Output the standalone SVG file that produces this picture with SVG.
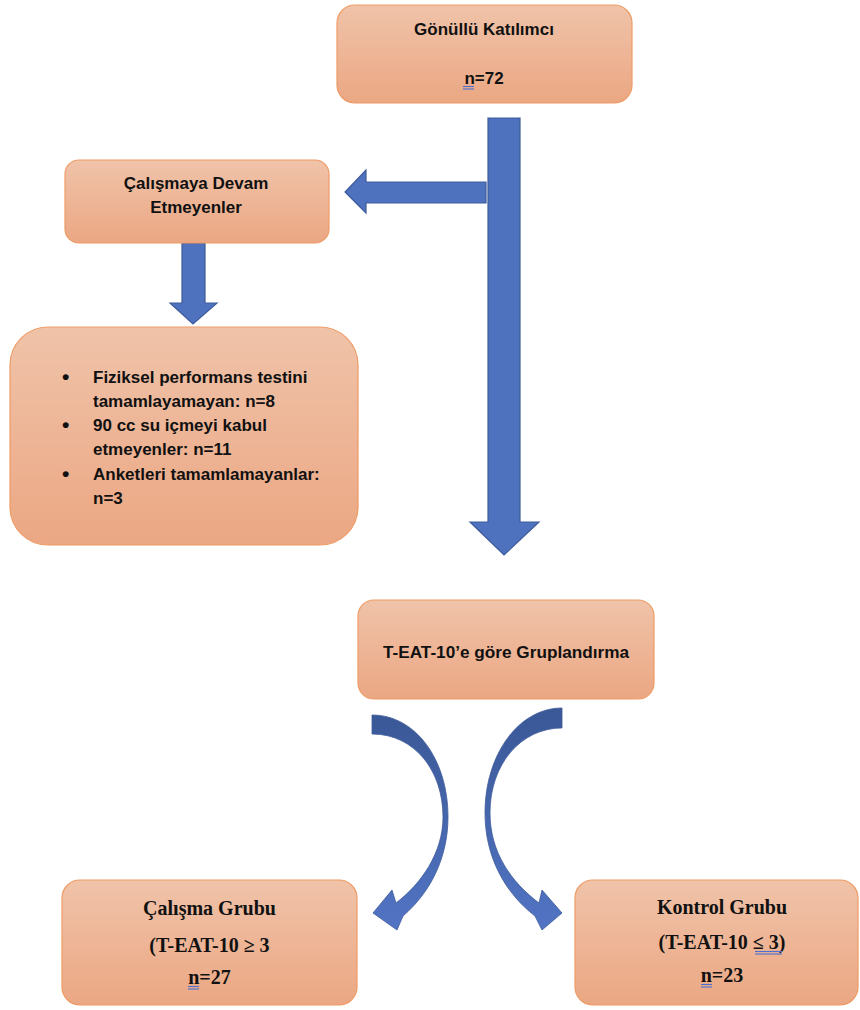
<svg xmlns="http://www.w3.org/2000/svg" width="860" height="1010" viewBox="0 0 860 1010">
<defs>
<linearGradient id="boxg" x1="0" y1="0" x2="0" y2="1">
<stop offset="0" stop-color="#F0C3A9"/>
<stop offset="1" stop-color="#EBA783"/>
</linearGradient>
<linearGradient id="curveg" x1="0" y1="0" x2="0" y2="1">
<stop offset="0" stop-color="#3A5896"/>
<stop offset="1" stop-color="#5274C4"/>
</linearGradient>
<style>
.box{fill:url(#boxg);stroke:#EE9C66;stroke-width:1.2}
.arr{fill:#4F72BE;stroke:#3E5B9B;stroke-width:1.2}
.carr{fill:url(#curveg);stroke:#3E5B9B;stroke-width:0.8}
.sans{font-family:"Liberation Sans",Arial,sans-serif;font-weight:bold;fill:#111}
.serif{font-family:"Liberation Serif","Times New Roman",serif;font-weight:bold;fill:#111;font-size:20px}
.ul{stroke:#4A6FD0;stroke-width:1.1}
</style>
</defs>

<g id="connectors">
<path class="arr" d="M488,118 L520,118 L520,522 L539,522 L504,555 L470,522 L488,522 Z"/>
<path class="arr" d="M486,182 L366,182 L366,170 L345,192 L366,213 L366,203 L486,203 Z"/>
<path class="arr" d="M182,243 L205,243 L205,303 L217,303 L193,324 L170,303 L182,303 Z"/>
<path class="carr" d="M372,715 C416,715 448,760 448,817 C448,858 430,893 403,916 L397,930 L373,913 L392,890 L396,903 C421,884 443,853 443,817 C443,770 414,734 372,734 Z"/>
<path class="carr" d="M562,708 C519,708 485,754 485,813 C485,857 505,893 535,916 L542,930 L562,913 L542,890 L539,903 C511,882 490,852 490,813 C490,764 521,728 562,728 Z"/>
</g>

<g id="node-gonullu">
<rect class="box" x="337" y="5" width="295" height="98" rx="18"/>
<text class="sans" x="484" y="35" font-size="17" text-anchor="middle">Gönüllü Katılımcı</text>
<text class="sans" x="484" y="84" font-size="17" text-anchor="middle">n=72</text>
<line class="ul" x1="463" y1="86.5" x2="474" y2="86.5"/>
<line class="ul" x1="463" y1="89" x2="474" y2="89"/>
</g>

<g id="node-devam">
<rect class="box" x="65" y="160" width="264" height="83" rx="14"/>
<text class="sans" x="196" y="189" font-size="17" text-anchor="middle">Çalışmaya Devam</text>
<text class="sans" x="196" y="213" font-size="17" text-anchor="middle">Etmeyenler</text>
</g>

<g id="node-liste">
<rect class="box" x="10" y="327" width="348" height="218" rx="38"/>
<g class="sans" font-size="17">
<text x="62" y="384" font-size="21">•</text>
<text x="93" y="383">Fiziksel performans testini</text>
<text x="93" y="407">tamamlayamayan: n=8</text>
<text x="62" y="432" font-size="21">•</text>
<text x="93" y="431">90 cc su içmeyi kabul</text>
<text x="93" y="455">etmeyenler: n=11</text>
<text x="62" y="481" font-size="21">•</text>
<text x="93" y="480">Anketleri tamamlamayanlar:</text>
<text x="93" y="504">n=3</text>
</g>
</g>

<g id="node-gruplandirma">
<rect class="box" x="358" y="600" width="296" height="99" rx="16"/>
<text class="sans" x="506" y="658" font-size="17.2" text-anchor="middle">T-EAT-10’e göre Gruplandırma</text>
</g>

<g id="node-calisma">
<rect class="box" x="62" y="880" width="295" height="125" rx="18"/>
<text class="serif" x="209.5" y="915" text-anchor="middle">Çalışma Grubu</text>
<text class="serif" x="209.5" y="952" text-anchor="middle">(T-EAT-10 ≥ 3</text>
<text class="serif" x="209.5" y="984" text-anchor="middle">n=27</text>
<line class="ul" x1="188" y1="986.5" x2="199" y2="986.5"/>
<line class="ul" x1="188" y1="989" x2="199" y2="989"/>
</g>

<g id="node-kontrol">
<rect class="box" x="575" y="880" width="283" height="125" rx="18"/>
<text class="serif" x="722" y="914" text-anchor="middle">Kontrol Grubu</text>
<text class="serif" x="722" y="949" text-anchor="middle">(T-EAT-10 ≤ 3)</text>
<text class="serif" x="722" y="982" text-anchor="middle">n=23</text>
<line class="ul" x1="755" y1="951.5" x2="782" y2="951.5"/>
<line class="ul" x1="755" y1="954" x2="782" y2="954"/>
<line class="ul" x1="701" y1="984.5" x2="712" y2="984.5"/>
<line class="ul" x1="701" y1="987" x2="712" y2="987"/>
</g>
</svg>
